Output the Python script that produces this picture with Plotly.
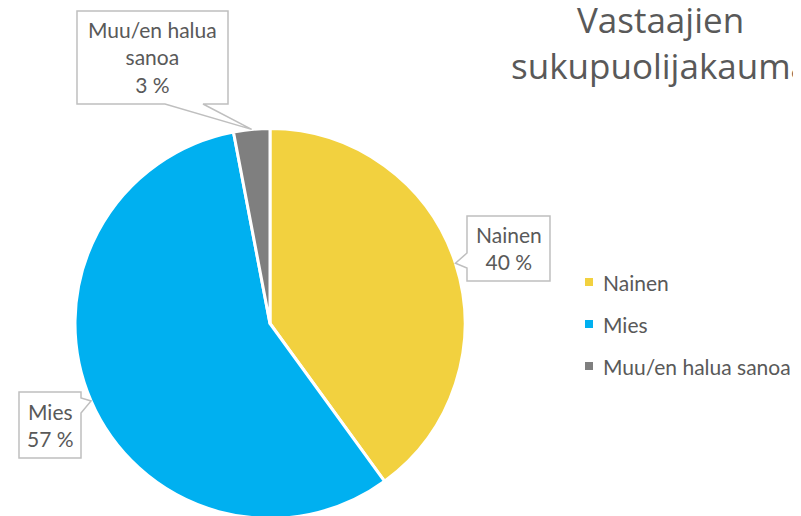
import math
import plotly.graph_objects as go

# ---- data ----
labels = ["Nainen", "Mies", "Muu/en halua sanoa"]
values = [40, 57, 3]
colors = ["#F2D13F", "#00B0F0", "#7F7F7F"]
callout_names = ["Nainen", "Mies", "Muu/en halua<br>sanoa"]
title_lines = ["Vastaajien", "sukupuolijakauma"]

# ---- layout geometry (viewport pixels; the page body adds an 8px offset) ----
W, H = 801, 516
OFF = 8
CX, CY, R = 270, 323.5, 195
TEXT_COLOR = "#595959"
FONT = "Lato, 'Open Sans', sans-serif"
TITLE_FONT = "'Open Sans', Lato, sans-serif"

# callout boxes: x0, y0, x1, y1, side with pointer, pointer base start/end
boxes = [
    dict(x0=467, y0=216, x1=550, y1=281, side="left", b0=253, b1=268),
    dict(x0=19, y0=392, x1=81, y1=458, side="right", b0=398, b1=413),
    dict(x0=77, y0=11, x1=228, y1=104, side="bottom", b0=165, b1=203),
]


def fx(x):
    return (x - OFF) / W


def fy(y):
    return 1 - (y - OFF) / H


def pt(x, y):
    return f"{fx(x):.5f},{fy(y):.5f}"


fig = go.Figure(
    go.Pie(
        labels=labels,
        values=values,
        sort=False,
        direction="clockwise",
        rotation=0,
        marker=dict(colors=colors, line=dict(color="white", width=3)),
        textinfo="none",
        hoverinfo="label+percent",
        showlegend=False,
        domain=dict(x=[fx(CX - R), fx(CX + R)], y=[fy(CY + R), fy(CY - R)]),
    )
)

total = sum(values)
shapes = []
annotations = []
cum = 0
for name, v, b in zip(callout_names, values, boxes):
    mid = (cum + v / 2) / total
    cum += v
    th = 2 * math.pi * mid
    tx, ty = CX + R * math.sin(th), CY - R * math.cos(th)
    x0, y0, x1, y1 = b["x0"], b["y0"], b["x1"], b["y1"]
    if b["side"] == "left":
        pts = [(x0, y0), (x1, y0), (x1, y1), (x0, y1), (x0, b["b1"]), (tx, ty), (x0, b["b0"])]
    elif b["side"] == "right":
        pts = [(x0, y0), (x1, y0), (x1, b["b0"]), (tx, ty), (x1, b["b1"]), (x1, y1), (x0, y1)]
    else:
        pts = [(x0, y0), (x1, y0), (x1, y1), (b["b1"], y1), (tx, ty), (b["b0"], y1), (x0, y1)]
    path = "M " + " L ".join(pt(x, y) for x, y in pts) + " Z"
    shapes.append(dict(type="path", xref="paper", yref="paper", path=path,
                       fillcolor="white", line=dict(color="#BFBFBF", width=1.5)))
    pct = round(v / total * 100)
    annotations.append(dict(
        x=fx((x0 + x1) / 2), y=fy((y0 + y1) / 2), xref="paper", yref="paper",
        xanchor="center", yanchor="middle", showarrow=False,
        text=f"{name}<br>{pct} %", font=dict(size=21, color=TEXT_COLOR, family=FONT),
    ))

# manual legend
LEG_X, LEG_Y0, LEG_DY, SQ = 585, 282, 42, 8
for i, (lab, col) in enumerate(zip(labels, colors)):
    yc = LEG_Y0 + i * LEG_DY
    shapes.append(dict(type="rect", xref="paper", yref="paper",
                       x0=fx(LEG_X), x1=fx(LEG_X + SQ),
                       y0=fy(yc + SQ / 2), y1=fy(yc - SQ / 2),
                       fillcolor=col, line=dict(width=0)))
    annotations.append(dict(
        x=fx(LEG_X + SQ + 8), y=fy(yc), xref="paper", yref="paper",
        xanchor="left", yanchor="middle", showarrow=False,
        text=lab, font=dict(size=21, color=TEXT_COLOR, family=FONT),
    ))

# title
annotations.append(dict(
    x=fx(660), y=fy(-6), xref="paper", yref="paper",
    xanchor="center", yanchor="top", showarrow=False,
    text="<br>".join(title_lines), font=dict(size=35, color=TEXT_COLOR, family=TITLE_FONT),
))

fig.update_layout(
    width=W, height=H,
    margin=dict(l=0, r=0, t=0, b=0),
    paper_bgcolor="white", plot_bgcolor="white",
    shapes=shapes, annotations=annotations,
)

fig.write_html("out.html")
